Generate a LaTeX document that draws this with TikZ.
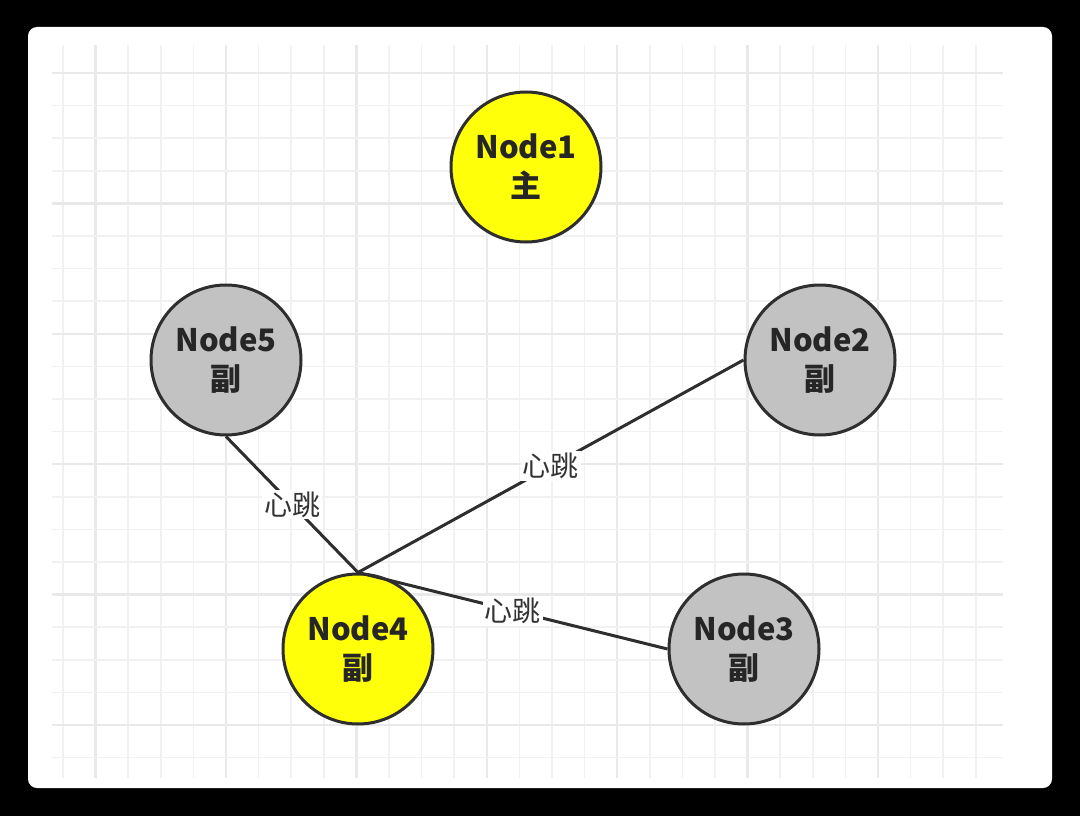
\documentclass[tikz,border=0pt]{standalone}
\usepackage{fontspec}
\setmainfont{Noto Sans CJK SC}
\definecolor{gridminor}{HTML}{F1F1F1}
\definecolor{gridmajor}{HTML}{E9E9E9}
\definecolor{nodeyellow}{HTML}{FFFF0A}
\definecolor{nodegray}{HTML}{C2C2C2}
\definecolor{edgecol}{HTML}{2E2E2E}
\begin{document}
\begin{tikzpicture}[x=1pt,y=-1pt,
  ring/.style={circle, draw=edgecol, line width=3pt, minimum size=150pt, inner sep=0pt,
    align=center, font=\fontsize{31}{39}\selectfont\bfseries, text=black!85},
  master/.style={ring, fill=nodeyellow},
  slave/.style={ring, fill=nodegray},
  link/.style={draw=edgecol, line width=3pt},
  hb/.style={fill=white, inner sep=2pt, font=\fontsize{28}{32}\selectfont, text=black!80}]
\useasboundingbox (0,0) rectangle (1080,816);
\fill[black] (0,0) rectangle (1080,816);
\fill[white, rounded corners=9pt] (28,27) rectangle (1052,788);
% grid
\foreach \k in {0,...,28}{
  \pgfmathtruncatemacro{\m}{mod(\k,4)}
  \ifnum\m=1
    \draw[gridmajor, line width=2.4pt] ({63+32.6*\k},45) -- ({63+32.6*\k},778);
  \else
    \draw[gridminor, line width=1.5pt] ({63+32.6*\k},45) -- ({63+32.6*\k},778);
  \fi}
\foreach \k in {0,...,21}{
  \pgfmathtruncatemacro{\m}{mod(\k,4)}
  \ifnum\m=0
    \draw[gridmajor, line width=2.4pt] (52,{73+32.6*\k}) -- (1003,{73+32.6*\k});
  \else
    \draw[gridminor, line width=1.5pt] (52,{73+32.6*\k}) -- (1003,{73+32.6*\k});
  \fi}
% nodes
\node[master] (n1) at (526,167) {Node1\\主};
\node[slave]  (n5) at (226,360) {Node5\\副};
\node[slave]  (n2) at (820,360) {Node2\\副};
\node[master] (n4) at (358,649) {Node4\\副};
\node[slave]  (n3) at (744,649) {Node3\\副};
% connectors
\draw[link] (n4.north) -- node[hb, pos=0.5] {心跳} (n5.south);
\draw[link] (n4.north) -- node[hb, pos=0.5] {心跳} (n2.west);
\draw[link] (n4.north) -- node[hb, pos=0.5] {心跳} (n3.west);
\end{tikzpicture}
\end{document}
